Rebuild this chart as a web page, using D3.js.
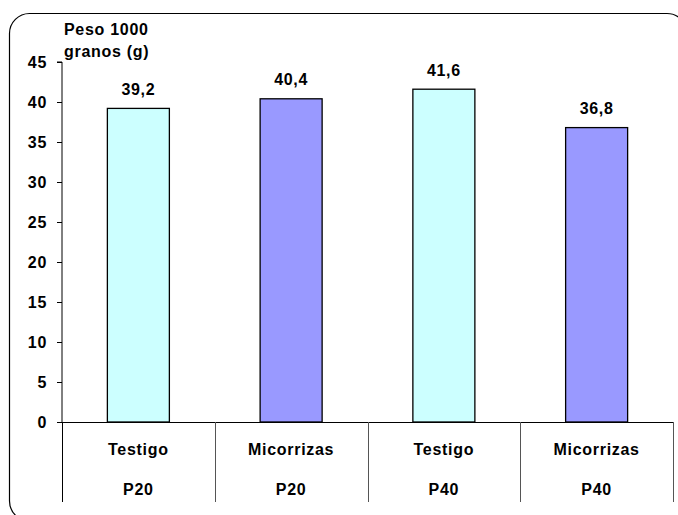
<!DOCTYPE html>
<html><head><meta charset="utf-8">
<script src="https://cdn.jsdelivr.net/npm/d3@7"></script>
<style>
body{margin:0;background:#fff;}
svg text{font-family:"Liberation Sans",Arial,sans-serif;font-weight:bold;font-size:16px;letter-spacing:0.7px;fill:#000;}
</style></head><body>
<svg id="c" width="678" height="515"></svg>
<script>
const treatments = ["Testigo","Micorrizas","Testigo","Micorrizas"];
const doses = ["P20","P20","P40","P40"];
const values = [39.2, 40.4, 41.6, 36.8];
const valueLabels = ["39,2","40,4","41,6","36,8"];
const fills = ["#CCFFFF","#9999FF","#CCFFFF","#9999FF"];
const yTicks = [0,5,10,15,20,25,30,35,40,45];
const yTitle = ["Peso 1000","granos (g)"];

const svg = d3.select("#c");
svg.append("rect").attr("x",9.5).attr("y",13.5).attr("width",677.5).attr("height",507.5)
  .attr("rx",20).attr("ry",20).attr("fill","#fff").attr("stroke","#000").attr("stroke-width",1.2);

const x0 = 62, x1 = 673, yTop = 62, yBot = 422;
const y = d3.scaleLinear().domain([0,45]).range([yBot,yTop]);
const idx = d3.range(values.length);
const x = d3.scaleBand().domain(idx).range([x0,x1]).paddingInner(0).paddingOuter(0);
const bw = 62;

// bars
svg.selectAll(".bar").data(idx).enter().append("rect")
  .attr("x", i => x(i) + x.bandwidth()/2 - bw/2)
  .attr("y", i => y(values[i]))
  .attr("width", bw)
  .attr("height", i => yBot - y(values[i]))
  .attr("fill", i => fills[i]).attr("stroke","#000").attr("stroke-width",1.3);

// value labels
svg.selectAll(".vl").data(idx).enter().append("text")
  .attr("x", i => x(i) + x.bandwidth()/2)
  .attr("y", i => y(values[i]) - 13.5)
  .attr("text-anchor","middle").text(i => valueLabels[i]);

// y axis
const yAxis = d3.axisLeft(y).tickValues(yTicks).tickSize(5).tickPadding(10);
const ga = svg.append("g").attr("transform",`translate(${x0},0)`).call(yAxis);
ga.select(".domain").attr("stroke","#000").attr("d",`M-5,${yTop}H0V${yBot}`);
ga.selectAll(".tick line").attr("stroke","#000");
ga.selectAll(".tick text").attr("font-size",null).attr("font-family",null).style("font-size","16px");

// x axis line
svg.append("line").attr("x1",x0).attr("x2",x1).attr("y1",yBot+0.5).attr("y2",yBot+0.5).attr("stroke","#000");
// separators
const seps = [x0, ...idx.map(i => x(i) + x.bandwidth())];
svg.selectAll(".sep").data(seps).enter().append("line")
  .attr("x1", d => Math.round(d)+0.5).attr("x2", d => Math.round(d)+0.5)
  .attr("y1", yBot).attr("y2", 502)
  .attr("stroke", (d,i) => i===0 ? "#000" : "#555");

// category labels
svg.selectAll(".cl").data(idx).enter().append("text")
  .attr("x", i => x(i) + x.bandwidth()/2).attr("y",455)
  .attr("text-anchor","middle").text(i => treatments[i]);
svg.selectAll(".dl").data(idx).enter().append("text")
  .attr("x", i => x(i) + x.bandwidth()/2).attr("y",495)
  .attr("text-anchor","middle").text(i => doses[i]);

// y title
svg.selectAll(".yt").data(yTitle).enter().append("text")
  .attr("x", 64).attr("y",(d,i)=>35+i*22)
  .text(d=>d);
</script></body></html>
